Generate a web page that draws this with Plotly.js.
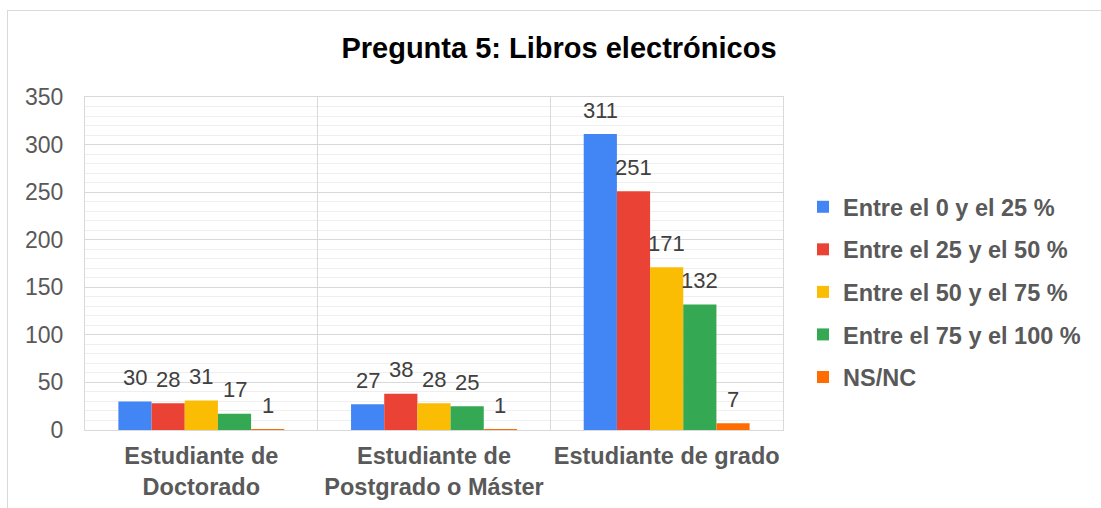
<!DOCTYPE html>
<html>
<head>
<meta charset="utf-8">
<script src="https://cdn.plot.ly/plotly-3.0.1.min.js"></script>
<style>
  html, body { margin: 0; padding: 0; background: #fff; }
  #chart { width: 1101px; height: 508px; }
  #frame { position: absolute; left: 7px; top: 10px; width: 1200px; height: 600px;
           border-left: 1px solid #d9d9d9; border-top: 1px solid #d9d9d9; pointer-events: none; }
</style>
</head>
<body>
<div id="chart"></div>
<div id="frame"></div>
<script>
const categories = ['Estudiante de Doctorado', 'Estudiante de Postgrado o Máster', 'Estudiante de grado'];
const tickLabels = ['Estudiante de<br>Doctorado', 'Estudiante de<br>Postgrado o Máster', 'Estudiante de grado'];
const seriesNames = ['Entre el 0 y el 25 %', 'Entre el 25 y el 50 %', 'Entre el 50 y el 75 %', 'Entre el 75 y el 100 %', 'NS/NC'];
const entre0y25 = [30, 27, 311];
const entre25y50 = [28, 38, 251];
const entre50y75 = [31, 28, 171];
const entre75y100 = [17, 25, 132];
const nsnc = [1, 1, 7];
const seriesValues = [entre0y25, entre25y50, entre50y75, entre75y100, nsnc];
const colors = ['#4285f4', '#ea4335', '#fbbc04', '#34a853', '#ff6d01'];

const bargap = 0.287;
const barW = (1 - bargap) / seriesNames.length;
const FONT = 'Liberation Sans, Arial, sans-serif';

const traces = seriesNames.map((name, j) => ({
  type: 'bar',
  name: name,
  x: categories,
  y: seriesValues[j],
  marker: { color: colors[j], line: { width: 0 } },
  legendgroup: 'g' + j,
  hoverinfo: 'x+y+name'
}));

const annotations = [];
seriesValues.forEach((vals, j) => {
  vals.forEach((v, i) => {
    annotations.push({
      x: i + (j - (seriesNames.length - 1) / 2) * barW,
      y: v,
      xref: 'x', yref: 'y',
      text: String(v),
      showarrow: false,
      yanchor: 'middle',
      yshift: 24,
      font: { family: FONT, size: 22, color: '#404040' }
    });
  });
});

const layout = {
  width: 1101,
  height: 508,
  margin: { l: 85, r: 318, t: 97, b: 78 },
  paper_bgcolor: 'rgba(0,0,0,0)',
  plot_bgcolor: '#ffffff',
  font: { family: FONT, color: '#595959' },
  title: {
    text: '<b>Pregunta 5: Libros electrónicos</b>',
    font: { family: FONT, size: 29, color: '#000000' },
    x: 559 / 1101, xref: 'container', xanchor: 'center',
    y: 1 - 48 / 508, yref: 'container', yanchor: 'middle'
  },
  barmode: 'group',
  bargap: bargap,
  bargroupgap: 0,
  xaxis: {
    type: 'category',
    tickvals: categories,
    ticktext: tickLabels.map(t => '<b>' + t.replace('<br>', '</b><br><b>') + '</b>'),
    tickfont: { family: FONT, size: 23.5, color: '#595959' },
    tickangle: 0,
    tickson: 'boundaries',
    ticks: '',
    showgrid: true,
    gridcolor: '#d9d9d9',
    gridwidth: 1,
    showline: true,
    linecolor: '#d9d9d9',
    linewidth: 1,
    mirror: true,
    zeroline: false,
    ticklabelstandoff: 5
  },
  yaxis: {
    range: [0, 350],
    dtick: 50,
    tick0: 0,
    tickfont: { family: FONT, size: 23, color: '#595959' },
    showgrid: true,
    gridcolor: '#d9d9d9',
    gridwidth: 1,
    minor: { dtick: 10, showgrid: true, gridcolor: '#efefef', gridwidth: 1, ticks: '' },
    showline: true,
    linecolor: '#d9d9d9',
    linewidth: 1,
    mirror: true,
    zeroline: false,
    ticks: '',
    ticklabelstandoff: 16
  },
  legend: {
    x: (803 - 85) / 698,
    xanchor: 'left',
    y: (430 - 292) / 333,
    yanchor: 'middle',
    font: { family: FONT, size: 23.5, color: '#595959', weight: 'bold' },
    tracegroupgap: 9,
    bgcolor: 'rgba(0,0,0,0)'
  },
  annotations: annotations,
  showlegend: true
};

Plotly.newPlot('chart', traces, layout, { displayModeBar: false, staticPlot: true });
</script>
</body>
</html>
